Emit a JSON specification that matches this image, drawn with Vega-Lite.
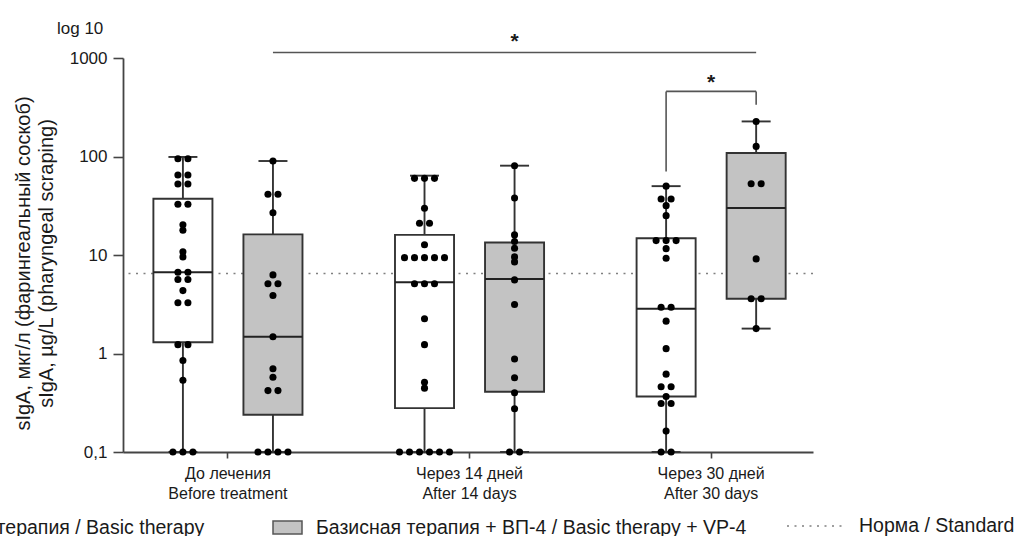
{
  "$schema": "https://vega.github.io/schema/vega-lite/v6.json",
  "width": 690,
  "height": 394,
  "autosize": {"type": "none"},
  "padding": {"left": 123, "top": 58, "right": 204, "bottom": 84},
  "background": "white",
  "config": {
    "view": {"stroke": null},
    "font": "Liberation Sans, Arial, sans-serif",
    "axis": {"grid": false, "domainColor": "#444444", "tickColor": "#444444", "labelColor": "#1a1a1a", "titleColor": "#1a1a1a"}
  },
  "title": {"text": "log 10", "anchor": "start", "frame": "group", "dx": -66, "dy": 29, "fontSize": 17, "fontWeight": "normal", "color": "#1a1a1a", "offset": 22},
  "datasets": {
    "boxes": [
      {"t": "before", "g": "basic", "lo": 0.1, "q1": 1.30, "med": 6.68, "q3": 37.3, "hi": 98.9},
      {"t": "before", "g": "vp4", "lo": 0.1, "q1": 0.239, "med": 1.48, "q3": 16.2, "hi": 90.0},
      {"t": "day14", "g": "basic", "lo": 0.1, "q1": 0.279, "med": 5.29, "q3": 16.0, "hi": 63.9},
      {"t": "day14", "g": "vp4", "lo": 0.1, "q1": 0.409, "med": 5.72, "q3": 13.4, "hi": 80.7},
      {"t": "day30", "g": "basic", "lo": 0.1, "q1": 0.366, "med": 2.84, "q3": 14.8, "hi": 50.0},
      {"t": "day30", "g": "vp4", "lo": 1.79, "q1": 3.59, "med": 30.0, "q3": 108.5, "hi": 227}
    ],
    "points": [
      {"t": "before", "g": "basic", "v": 95}, {"t": "before", "g": "basic", "v": 95},
      {"t": "before", "g": "basic", "v": 65}, {"t": "before", "g": "basic", "v": 65},
      {"t": "before", "g": "basic", "v": 52.5}, {"t": "before", "g": "basic", "v": 52.5},
      {"t": "before", "g": "basic", "v": 32.7}, {"t": "before", "g": "basic", "v": 32.7},
      {"t": "before", "g": "basic", "v": 20.3}, {"t": "before", "g": "basic", "v": 17.8},
      {"t": "before", "g": "basic", "v": 10.8}, {"t": "before", "g": "basic", "v": 9.57},
      {"t": "before", "g": "basic", "v": 6.68}, {"t": "before", "g": "basic", "v": 6.68},
      {"t": "before", "g": "basic", "v": 5.63}, {"t": "before", "g": "basic", "v": 5.63},
      {"t": "before", "g": "basic", "v": 4.35},
      {"t": "before", "g": "basic", "v": 3.27}, {"t": "before", "g": "basic", "v": 3.27},
      {"t": "before", "g": "basic", "v": 1.23}, {"t": "before", "g": "basic", "v": 1.23},
      {"t": "before", "g": "basic", "v": 0.85}, {"t": "before", "g": "basic", "v": 0.536},
      {"t": "before", "g": "basic", "v": 0.1}, {"t": "before", "g": "basic", "v": 0.1}, {"t": "before", "g": "basic", "v": 0.1},
      {"t": "before", "g": "vp4", "v": 90},
      {"t": "before", "g": "vp4", "v": 41.4}, {"t": "before", "g": "vp4", "v": 41.4},
      {"t": "before", "g": "vp4", "v": 26.9}, {"t": "before", "g": "vp4", "v": 6.28},
      {"t": "before", "g": "vp4", "v": 5.1}, {"t": "before", "g": "vp4", "v": 5.1},
      {"t": "before", "g": "vp4", "v": 3.88}, {"t": "before", "g": "vp4", "v": 1.48},
      {"t": "before", "g": "vp4", "v": 0.70}, {"t": "before", "g": "vp4", "v": 0.575},
      {"t": "before", "g": "vp4", "v": 0.42}, {"t": "before", "g": "vp4", "v": 0.42},
      {"t": "before", "g": "vp4", "v": 0.1}, {"t": "before", "g": "vp4", "v": 0.1}, {"t": "before", "g": "vp4", "v": 0.1}, {"t": "before", "g": "vp4", "v": 0.1},
      {"t": "day14", "g": "basic", "v": 60}, {"t": "day14", "g": "basic", "v": 60}, {"t": "day14", "g": "basic", "v": 60},
      {"t": "day14", "g": "basic", "v": 29.8},
      {"t": "day14", "g": "basic", "v": 21.0}, {"t": "day14", "g": "basic", "v": 21.0},
      {"t": "day14", "g": "basic", "v": 12.7},
      {"t": "day14", "g": "basic", "v": 9.4}, {"t": "day14", "g": "basic", "v": 9.4}, {"t": "day14", "g": "basic", "v": 9.4}, {"t": "day14", "g": "basic", "v": 9.4}, {"t": "day14", "g": "basic", "v": 9.4},
      {"t": "day14", "g": "basic", "v": 5.1}, {"t": "day14", "g": "basic", "v": 5.1}, {"t": "day14", "g": "basic", "v": 5.1},
      {"t": "day14", "g": "basic", "v": 2.25}, {"t": "day14", "g": "basic", "v": 1.23},
      {"t": "day14", "g": "basic", "v": 0.51}, {"t": "day14", "g": "basic", "v": 0.445},
      {"t": "day14", "g": "basic", "v": 0.1}, {"t": "day14", "g": "basic", "v": 0.1}, {"t": "day14", "g": "basic", "v": 0.1},
      {"t": "day14", "g": "basic", "v": 0.1}, {"t": "day14", "g": "basic", "v": 0.1}, {"t": "day14", "g": "basic", "v": 0.1},
      {"t": "day14", "g": "vp4", "v": 80.7}, {"t": "day14", "g": "vp4", "v": 37.9},
      {"t": "day14", "g": "vp4", "v": 16.0}, {"t": "day14", "g": "vp4", "v": 13.7},
      {"t": "day14", "g": "vp4", "v": 11.7}, {"t": "day14", "g": "vp4", "v": 9.57},
      {"t": "day14", "g": "vp4", "v": 8.51}, {"t": "day14", "g": "vp4", "v": 5.59},
      {"t": "day14", "g": "vp4", "v": 3.14}, {"t": "day14", "g": "vp4", "v": 0.88},
      {"t": "day14", "g": "vp4", "v": 0.567}, {"t": "day14", "g": "vp4", "v": 0.40},
      {"t": "day14", "g": "vp4", "v": 0.275},
      {"t": "day14", "g": "vp4", "v": 0.1}, {"t": "day14", "g": "vp4", "v": 0.1},
      {"t": "day30", "g": "basic", "v": 50},
      {"t": "day30", "g": "basic", "v": 37.1}, {"t": "day30", "g": "basic", "v": 37.1},
      {"t": "day30", "g": "basic", "v": 31.7}, {"t": "day30", "g": "basic", "v": 25.1},
      {"t": "day30", "g": "basic", "v": 14.0}, {"t": "day30", "g": "basic", "v": 14.0}, {"t": "day30", "g": "basic", "v": 14.0},
      {"t": "day30", "g": "basic", "v": 11.6}, {"t": "day30", "g": "basic", "v": 9.27},
      {"t": "day30", "g": "basic", "v": 2.95}, {"t": "day30", "g": "basic", "v": 2.95},
      {"t": "day30", "g": "basic", "v": 2.13}, {"t": "day30", "g": "basic", "v": 1.12},
      {"t": "day30", "g": "basic", "v": 0.617},
      {"t": "day30", "g": "basic", "v": 0.46}, {"t": "day30", "g": "basic", "v": 0.46},
      {"t": "day30", "g": "basic", "v": 0.366},
      {"t": "day30", "g": "basic", "v": 0.311}, {"t": "day30", "g": "basic", "v": 0.311},
      {"t": "day30", "g": "basic", "v": 0.163},
      {"t": "day30", "g": "basic", "v": 0.1}, {"t": "day30", "g": "basic", "v": 0.1},
      {"t": "day30", "g": "vp4", "v": 227}, {"t": "day30", "g": "vp4", "v": 126.6},
      {"t": "day30", "g": "vp4", "v": 52.8}, {"t": "day30", "g": "vp4", "v": 52.8},
      {"t": "day30", "g": "vp4", "v": 9.13},
      {"t": "day30", "g": "vp4", "v": 3.6}, {"t": "day30", "g": "vp4", "v": 3.6},
      {"t": "day30", "g": "vp4", "v": 1.79}
    ],
    "norm": [{"label": "Норма / Standard", "v": 6.5}],
    "sig": [
      {"a_t": "before", "a_g": "vp4", "b_t": "day30", "b_g": "vp4", "level": 1137, "a_end": 1137, "b_end": 1137, "star": 1622, "mark": "*"},
      {"a_t": "day30", "a_g": "basic", "b_t": "day30", "b_g": "vp4", "level": 458, "a_end": 70.6, "b_end": 335, "star": 625, "mark": "*"}
    ]
  },
  "layer": [
    {
      "data": {"name": "norm"},
      "mark": {"type": "rule", "color": "#808080", "strokeWidth": 1.6},
      "encoding": {
        "y": {
          "field": "v", "type": "quantitative",
          "scale": {"type": "log", "domain": [0.1, 1000], "nice": false},
          "axis": {
            "values": [0.1, 1, 10, 100, 1000],
            "labelExpr": "datum.value < 0.5 ? '0,1' : format(datum.value, 'd')",
            "title": ["sIgA, мкг/л (фарингеальный соскоб)", "sIgA, µg/L (pharyngeal scraping)"],
            "titleFontSize": 20, "titleFontWeight": "normal", "titleLineHeight": 23,
            "titleX": -100, "titleY": 205, "titleAngle": -90, "titleAlign": "center", "titleBaseline": "middle",
            "tickSize": 10, "tickWidth": 1.6, "domainWidth": 1.8,
            "labelFontSize": 17, "labelPadding": 6
          }
        },
        "strokeDash": {
          "field": "label", "type": "nominal",
          "scale": {"range": [[2, 5.5]]},
          "legend": {
            "orient": "none", "legendX": 663, "legendY": 437, "title": null,
            "symbolType": "stroke", "symbolSize": 3600, "symbolStrokeColor": "#808080", "symbolStrokeWidth": 1.6,
            "labelFontSize": 19.5, "labelOffset": 11, "labelLimit": 1000, "labelColor": "#1a1a1a", "padding": 0
          }
        }
      }
    },
    {
      "data": {"name": "boxes"},
      "transform": [
        {"calculate": "indexof(['before','day14','day30'], datum.t) + 1 + (datum.g == 'vp4' ? 0.1884 : -0.1843)", "as": "pos"},
        {"calculate": "datum.pos - 0.1222", "as": "bl"},
        {"calculate": "datum.pos + 0.1222", "as": "br"},
        {"calculate": "datum.pos - 0.06", "as": "cl"},
        {"calculate": "datum.pos + 0.06", "as": "cr"}
      ],
      "layer": [
        {
          "mark": {"type": "rule", "color": "#333333", "strokeWidth": 1.9},
          "encoding": {
            "x": {"field": "pos", "type": "quantitative", "scale": {"domain": [0.5677, 3.4237], "nice": false, "zero": false},
              "axis": {
                "values": [1, 2, 3],
                "labelExpr": "datum.value == 1 ? ['До лечения', 'Before treatment'] : datum.value == 2 ? ['Через 14 дней', 'After 14 days'] : ['Через 30 дней', 'After 30 days']",
                "title": null, "tickSize": 6, "tickWidth": 1.6, "domainWidth": 1.8,
                "labelFontSize": 16, "labelLineHeight": 20, "labelPadding": 7, "labelBaseline": "top"
              }
            },
            "y": {"field": "q3", "type": "quantitative", "scale": {"type": "log", "domain": [0.1, 1000], "nice": false}},
            "y2": {"field": "hi"}
          }
        },
        {
          "mark": {"type": "rule", "color": "#333333", "strokeWidth": 1.9},
          "encoding": {
            "x": {"field": "pos", "type": "quantitative", "scale": {"domain": [0.5677, 3.4237], "nice": false, "zero": false}},
            "y": {"field": "lo", "type": "quantitative", "scale": {"type": "log", "domain": [0.1, 1000], "nice": false}},
            "y2": {"field": "q1"}
          }
        },
        {
          "mark": {"type": "rule", "color": "#333333", "strokeWidth": 1.9},
          "encoding": {
            "x": {"field": "cl", "type": "quantitative", "scale": {"domain": [0.5677, 3.4237], "nice": false, "zero": false}},
            "x2": {"field": "cr"},
            "y": {"field": "hi", "type": "quantitative", "scale": {"type": "log", "domain": [0.1, 1000], "nice": false}}
          }
        },
        {
          "mark": {"type": "rule", "color": "#333333", "strokeWidth": 1.9},
          "encoding": {
            "x": {"field": "cl", "type": "quantitative", "scale": {"domain": [0.5677, 3.4237], "nice": false, "zero": false}},
            "x2": {"field": "cr"},
            "y": {"field": "lo", "type": "quantitative", "scale": {"type": "log", "domain": [0.1, 1000], "nice": false}}
          }
        },
        {
          "mark": {"type": "bar", "stroke": "#333333", "strokeWidth": 1.9},
          "encoding": {
            "x": {"field": "bl", "type": "quantitative", "scale": {"domain": [0.5677, 3.4237], "nice": false, "zero": false}},
            "x2": {"field": "br"},
            "y": {"field": "q1", "type": "quantitative", "scale": {"type": "log", "domain": [0.1, 1000], "nice": false}},
            "y2": {"field": "q3"},
            "fill": {
              "field": "g", "type": "nominal",
              "scale": {"domain": ["basic", "vp4"], "range": ["#ffffff", "#c3c3c3"]},
              "legend": {
                "orient": "none", "legendX": -261, "legendY": 454, "direction": "horizontal", "title": null,
                "symbolType": "M-1,-0.44H1V0.44H-1Z", "symbolSize": 841, "symbolStrokeColor": "#555555", "symbolStrokeWidth": 1.5,
                "labelFontSize": 19.5, "labelOffset": 13, "columnPadding": 65, "labelLimit": 1000, "labelColor": "#1a1a1a", "padding": 0,
                "labelExpr": "datum.value == 'basic' ? 'Базисная терапия / Basic therapy' : 'Базисная терапия + ВП-4 / Basic therapy + VP-4'"
              }
            }
          }
        },
        {
          "mark": {"type": "rule", "color": "#222222", "strokeWidth": 2},
          "encoding": {
            "x": {"field": "bl", "type": "quantitative", "scale": {"domain": [0.5677, 3.4237], "nice": false, "zero": false}},
            "x2": {"field": "br"},
            "y": {"field": "med", "type": "quantitative", "scale": {"type": "log", "domain": [0.1, 1000], "nice": false}}
          }
        }
      ]
    },
    {
      "data": {"name": "points"},
      "transform": [
        {"calculate": "indexof(['before','day14','day30'], datum.t) + 1 + (datum.g == 'vp4' ? 0.1884 : -0.1843)", "as": "pos"},
        {"window": [{"op": "row_number", "as": "rn"}, {"op": "count", "as": "n"}], "groupby": ["t", "g", "v"], "frame": [null, null]},
        {"calculate": "datum.pos + (datum.rn - (datum.n + 1) / 2) * 0.0414", "as": "px"}
      ],
      "mark": {"type": "circle", "size": 50, "color": "#000000", "opacity": 1},
      "encoding": {
        "x": {"field": "px", "type": "quantitative", "scale": {"domain": [0.5677, 3.4237], "nice": false, "zero": false}},
        "y": {"field": "v", "type": "quantitative", "scale": {"type": "log", "domain": [0.1, 1000], "nice": false}}
      }
    },
    {
      "data": {"name": "sig"},
      "transform": [
        {"calculate": "indexof(['before','day14','day30'], datum.a_t) + 1 + (datum.a_g == 'vp4' ? 0.1884 : -0.1843)", "as": "pa"},
        {"calculate": "indexof(['before','day14','day30'], datum.b_t) + 1 + (datum.b_g == 'vp4' ? 0.1884 : -0.1843)", "as": "pb"},
        {"calculate": "(datum.pa + datum.pb) / 2", "as": "mid"}
      ],
      "layer": [
        {
          "mark": {"type": "rule", "color": "#555555", "strokeWidth": 1.6},
          "encoding": {
            "x": {"field": "pa", "type": "quantitative", "scale": {"domain": [0.5677, 3.4237], "nice": false, "zero": false}},
            "x2": {"field": "pb"},
            "y": {"field": "level", "type": "quantitative", "scale": {"type": "log", "domain": [0.1, 1000], "nice": false}}
          }
        },
        {
          "mark": {"type": "rule", "color": "#555555", "strokeWidth": 1.6},
          "encoding": {
            "x": {"field": "pa", "type": "quantitative", "scale": {"domain": [0.5677, 3.4237], "nice": false, "zero": false}},
            "y": {"field": "a_end", "type": "quantitative", "scale": {"type": "log", "domain": [0.1, 1000], "nice": false}},
            "y2": {"field": "level"}
          }
        },
        {
          "mark": {"type": "rule", "color": "#555555", "strokeWidth": 1.6},
          "encoding": {
            "x": {"field": "pb", "type": "quantitative", "scale": {"domain": [0.5677, 3.4237], "nice": false, "zero": false}},
            "y": {"field": "b_end", "type": "quantitative", "scale": {"type": "log", "domain": [0.1, 1000], "nice": false}},
            "y2": {"field": "level"}
          }
        },
        {
          "mark": {"type": "text", "fontSize": 21, "fontWeight": "bold", "color": "#1a1a1a", "baseline": "middle", "align": "center", "dy": 5},
          "encoding": {
            "x": {"field": "mid", "type": "quantitative", "scale": {"domain": [0.5677, 3.4237], "nice": false, "zero": false}},
            "y": {"field": "star", "type": "quantitative", "scale": {"type": "log", "domain": [0.1, 1000], "nice": false}},
            "text": {"field": "mark"}
          }
        }
      ]
    }
  ]
}
